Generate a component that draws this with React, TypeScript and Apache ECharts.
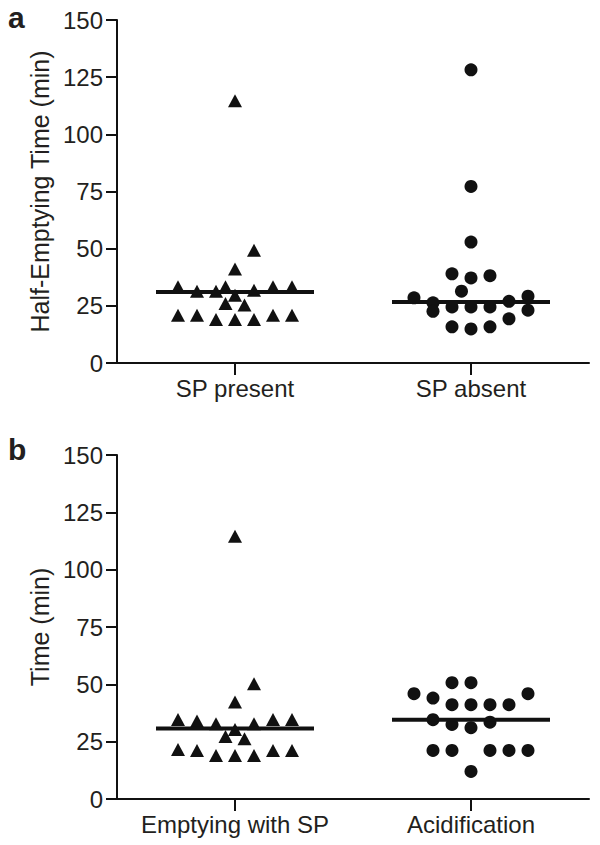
import React, { useEffect, useRef } from "react";
import * as echarts from "echarts";

// ---------- data ----------
const categoriesA = ["SP present", "SP absent"];
const categoriesB = ["Emptying with SP", "Acidification"];
const yTicks = { min: 0, max: 150, interval: 25 };

// Panel a – SP present (triangles)
const spPresentValues = [114.7, 49.3, 41.1, 33.3, 31.4, 31.4, 33.3, 31.8, 33.3, 33.3, 29.6, 26.0, 25.4, 20.9, 20.9, 19.0, 19.0, 19.0, 20.9, 20.9];
const spPresentLanes = [0, 1, 0, -3, -2, -1, -0.5, 1, 2, 3, 0, -0.5, 0.5, -3, -2, -1, 0, 1, 2, 3];
// Panel a – SP absent (circles)
const spAbsentValues = [128.2, 77.2, 52.9, 39.0, 37.2, 38.2, 31.4, 28.5, 26.3, 22.6, 24.5, 24.5, 24.5, 27.0, 19.3, 29.2, 23.1, 15.8, 14.9, 15.8];
const spAbsentLanes = [0, 0, 0, -1, 0, 1, -0.5, -3, -2, -2, -1, 0, 1, 2, 2, 3, 3, -1, 0, 1];
const mediansA = [31.1, 26.7];

// Panel b – Emptying with SP (triangles)
const emptyingValues = [114.6, 50.3, 42.3, 34.7, 34.0, 32.8, 32.8, 34.7, 34.7, 30.3, 27.3, 26.3, 21.6, 21.2, 19.0, 19.0, 19.0, 21.2, 21.2];
const emptyingLanes = [0, 1, 0, -3, -2, -1, 1, 2, 3, 0, -0.5, 0.5, -3, -2, -1, 0, 1, 2, 3];
// Panel b – Acidification (circles)
const acidValues = [50.7, 50.7, 45.9, 45.9, 44.0, 41.1, 41.1, 41.1, 41.1, 34.6, 32.5, 31.1, 33.5, 21.2, 21.2, 21.2, 21.2, 21.2, 12.0];
const acidLanes = [-1, 0, -3, 3, -2, -1, 0, 1, 2, -2, -1, 0, 1, -2, -1, 1, 2, 3, 0];
const mediansB = [30.7, 34.6];

// ---------- style ----------
const LANE_PX = 19;
const TEXT = "#231f20";
const INK = "#111111";
const FONT = "Liberation Sans, Arial, Helvetica, sans-serif";

function points(cat: number, values: number[], lanes: number[]) {
  return values.map((v, i) => ({ value: [cat, v], symbolOffset: [lanes[i] * LANE_PX, 0] }));
}

function xAxisFor(gridIndex: number, cats: string[]) {
  return {
    type: "category",
    gridIndex,
    data: cats,
    boundaryGap: true,
    axisLine: { show: true, lineStyle: { color: INK, width: 2 } },
    axisTick: { show: true, alignWithLabel: true, interval: 0, length: 12, lineStyle: { color: INK, width: 2 } },
    axisLabel: { color: TEXT, fontSize: 24, fontFamily: FONT, margin: 13, interval: 0, hideOverlap: false },
    splitLine: { show: false },
  };
}

function yAxisFor(gridIndex: number, name: string) {
  return {
    type: "value",
    gridIndex,
    min: yTicks.min,
    max: yTicks.max,
    interval: yTicks.interval,
    name,
    nameLocation: "middle",
    nameRotate: 90,
    nameGap: 63,
    nameTextStyle: { color: TEXT, fontSize: 25, fontFamily: FONT },
    axisLine: { show: true, lineStyle: { color: INK, width: 2 } },
    axisTick: { show: true, length: 11, lineStyle: { color: INK, width: 2 } },
    axisLabel: { color: TEXT, fontSize: 24, fontFamily: FONT, margin: 14 },
    splitLine: { show: false },
  };
}

function scatter(axisIndex: number, data: any[], symbol: string, size: any) {
  return {
    type: "scatter",
    xAxisIndex: axisIndex,
    yAxisIndex: axisIndex,
    data,
    symbol,
    symbolSize: size,
    itemStyle: { color: INK, opacity: 1 },
    silent: true,
  };
}

function medianSeries(axisIndex: number, medians: number[]) {
  return {
    type: "scatter",
    xAxisIndex: axisIndex,
    yAxisIndex: axisIndex,
    data: medians.map((m, i) => [i, m]),
    symbol: "rect",
    symbolSize: [158, 4],
    itemStyle: { color: INK, opacity: 1 },
    silent: true,
    z: 3,
  };
}

export default function App() {
  const ref = useRef<HTMLDivElement>(null);
  useEffect(() => {
    document.body.style.margin = "0";
    const chart = echarts.init(ref.current!, undefined, { renderer: "svg" });
    const triSize = [14, 13];
    const dotSize = 13;
    chart.setOption({
      animation: false,
      backgroundColor: "#ffffff",
      textStyle: { fontFamily: FONT },
      grid: [
        { left: 117, top: 20, right: 11, height: 343 },
        { left: 117, top: 455, right: 11, height: 344 },
      ],
      xAxis: [xAxisFor(0, categoriesA), xAxisFor(1, categoriesB)],
      yAxis: [yAxisFor(0, "Half-Emptying Time (min)"), yAxisFor(1, "Time (min)")],
      graphic: [
        { type: "text", left: 8, top: 2, style: { text: "a", fontSize: 30, fontWeight: "bold", fontFamily: FONT, fill: TEXT } },
        { type: "text", left: 8, top: 434, style: { text: "b", fontSize: 30, fontWeight: "bold", fontFamily: FONT, fill: TEXT } },
      ],
      series: [
        scatter(0, points(0, spPresentValues, spPresentLanes), "triangle", triSize),
        scatter(0, points(1, spAbsentValues, spAbsentLanes), "circle", dotSize),
        medianSeries(0, mediansA),
        scatter(1, points(0, emptyingValues, emptyingLanes), "triangle", triSize),
        scatter(1, points(1, acidValues, acidLanes), "circle", dotSize),
        medianSeries(1, mediansB),
      ],
    });
    return () => chart.dispose();
  }, []);
  return <div ref={ref} style={{ width: 600, height: 845 }} />;
}
